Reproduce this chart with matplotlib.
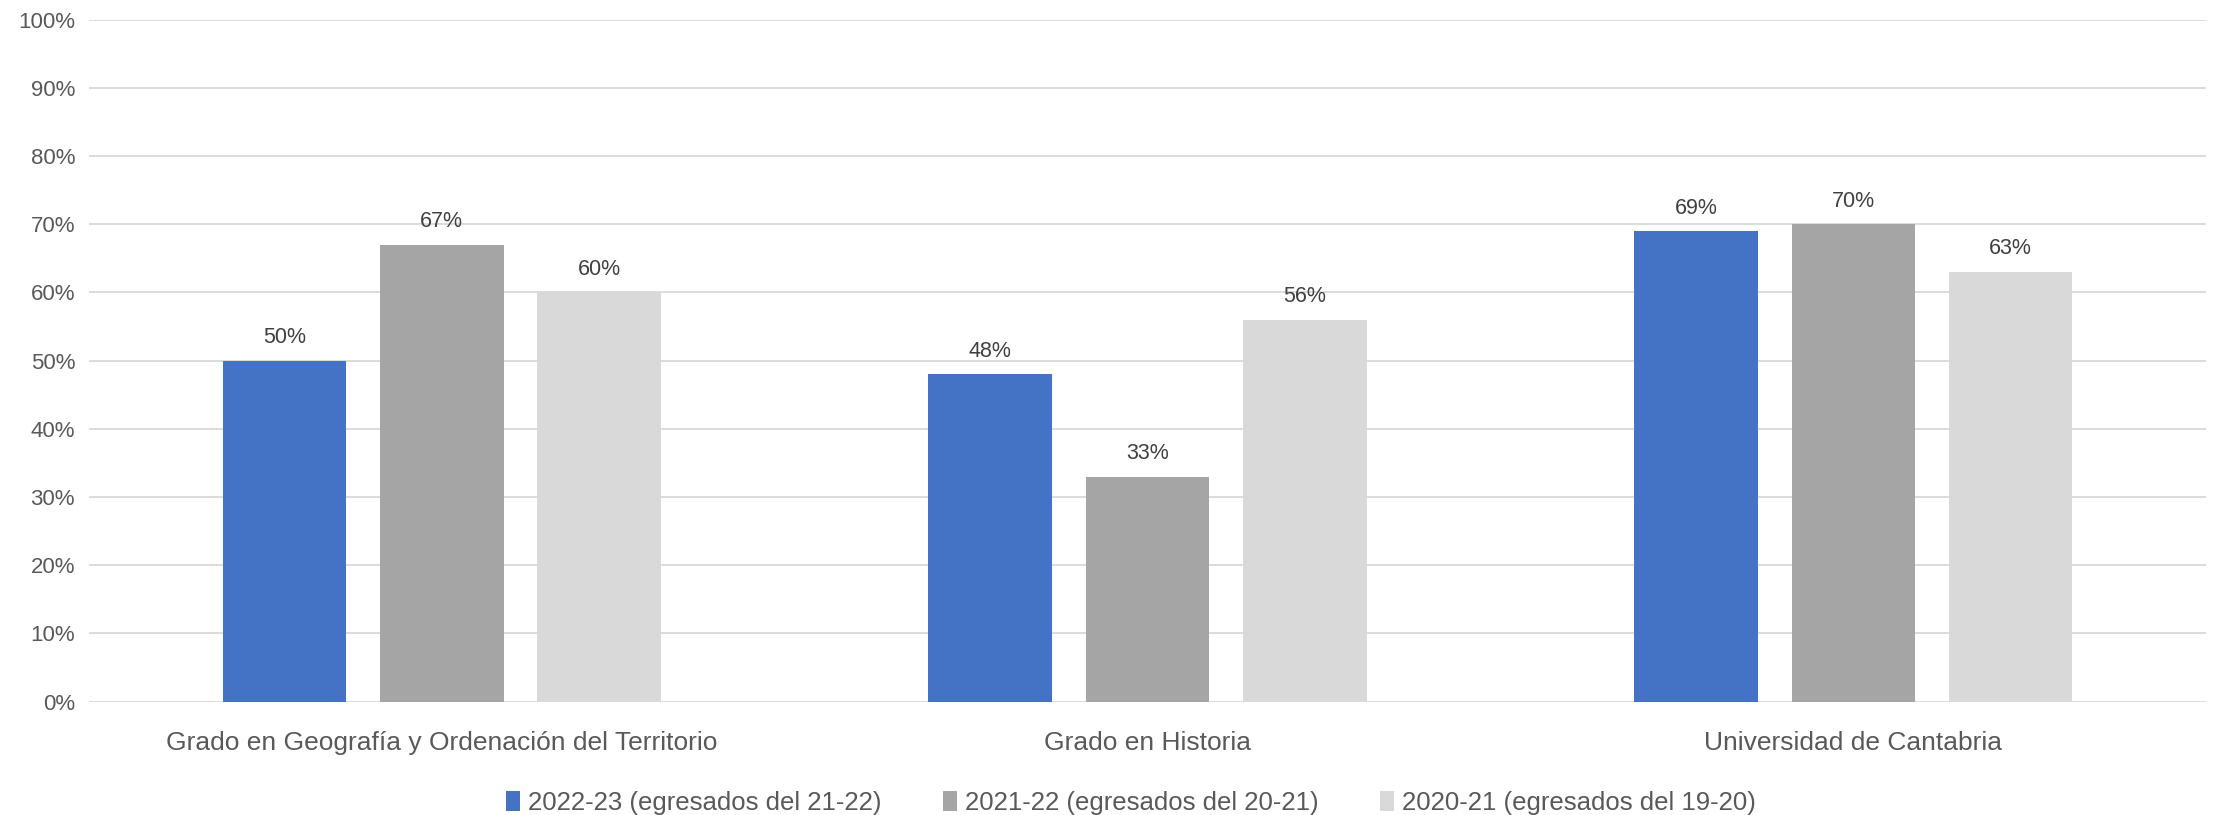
import matplotlib.pyplot as plt
import numpy as np

plt.rcParams['font.family'] = ['Liberation Sans', 'DejaVu Sans']

categories = ['Grado en Geografía y Ordenación del Territorio', 'Grado en Historia',
              'Universidad de Cantabria']
series_names = ['2022-23 (egresados del 21-22)', '2021-22 (egresados del 20-21)',
                '2020-21 (egresados del 19-20)']
values_2223 = [50, 48, 69]
values_2122 = [67, 33, 70]
values_2021 = [60, 56, 63]
colors = ['#4472C4', '#A5A5A5', '#D9D9D9']

fig = plt.figure(figsize=(22.24, 8.15), dpi=100)
ax = fig.add_axes([0.040, 0.139, 0.952, 0.837])

x = np.arange(len(categories))
width = 0.175
step = 0.223
for i, (vals, name, c) in enumerate(zip([values_2223, values_2122, values_2021], series_names, colors)):
    bars = ax.bar(x + (i - 1) * step, vals, width, color=c, label=name, zorder=3)
    for b, v in zip(bars, vals):
        ax.annotate(f'{v}%', (b.get_x() + b.get_width() / 2, v), xytext=(0, 9),
                    textcoords='offset points', ha='center', va='bottom',
                    fontsize=15.5, color='#404040')

ax.set_xlim(-0.5, len(categories) - 0.5)
ax.set_ylim(0, 100)
ax.set_yticks(range(0, 101, 10))
ax.set_yticklabels([f'{t}%' for t in range(0, 101, 10)], fontsize=16, color='#595959')
ax.set_xticks(x)
ax.set_xticklabels(categories, fontsize=19, color='#595959')
ax.tick_params(axis='both', length=0)
ax.tick_params(axis='x', pad=21)
ax.tick_params(axis='y', pad=10)
ax.grid(axis='y', color='#D9D9D9', lw=1.3, zorder=0)
for s in ax.spines.values():
    s.set_visible(False)

leg = ax.legend(loc='center', bbox_to_anchor=(0.492, -0.148), ncol=3, frameon=False,
                fontsize=18.5, handlelength=0.55, handleheight=0.85, handletextpad=0.3,
                columnspacing=2.4, labelcolor='#595959')

fig.savefig('out.png', dpi=100)
